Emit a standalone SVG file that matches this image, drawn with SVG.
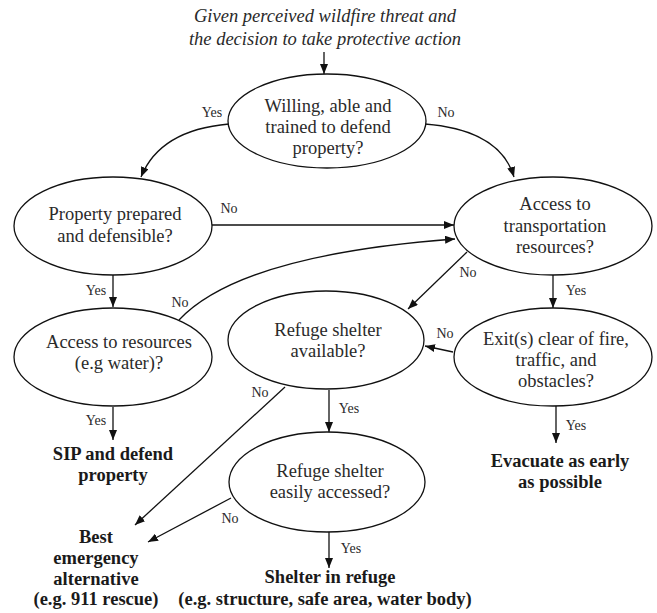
<svg xmlns="http://www.w3.org/2000/svg" width="657" height="613" viewBox="0 0 657 613">
<style>
.bg{fill:#fff}
ellipse{fill:#fff;stroke:#111;stroke-width:1.3}
text{font-family:'Liberation Serif',Tinos,'Times New Roman','Nimbus Roman','DejaVu Serif',serif;fill:#2a2a2a;text-anchor:middle}
.t{font-size:18.5px}
.b{font-size:18.5px;font-weight:bold;fill:#1a1a1a}
.i{font-size:18.5px;font-style:italic}
.l{font-size:14px}
.c path,.c line{fill:none;stroke:#111;stroke-width:1.3}
</style>
<defs>
<marker id="ah" viewBox="0 0 10 8" refX="10" refY="4" markerWidth="10" markerHeight="8" orient="auto" markerUnits="userSpaceOnUse"><path d="M0,0 L10,4 L0,8 z" fill="#111"/></marker>
</defs>
<rect class="bg" x="0" y="0" width="657" height="613"/>
<g id="start"><text class="i" x="325" y="22">Given perceived wildfire threat and</text><text class="i" x="325" y="45">the decision to take protective action</text></g>
<g class="c" id="connectors">
<line x1="324" y1="52" x2="324" y2="74" marker-end="url(#ah)"/>
<path d="M229,124 Q160,130 141,177" marker-end="url(#ah)"/>
<path d="M425,124 Q500,130 514,177" marker-end="url(#ah)"/>
<line x1="212" y1="225" x2="454" y2="225" marker-end="url(#ah)"/>
<path d="M179,320 Q240,255 455,239" marker-end="url(#ah)"/>
<line x1="113" y1="275" x2="113" y2="307" marker-end="url(#ah)"/>
<line x1="467" y1="252" x2="408" y2="309" marker-end="url(#ah)"/>
<line x1="553" y1="275" x2="553" y2="308" marker-end="url(#ah)"/>
<line x1="453" y1="352" x2="425" y2="346" marker-end="url(#ah)"/>
<line x1="113" y1="407" x2="113" y2="440" marker-end="url(#ah)"/>
<line x1="285" y1="387" x2="135" y2="525" marker-end="url(#ah)"/>
<line x1="329" y1="390" x2="329" y2="432" marker-end="url(#ah)"/>
<line x1="231" y1="498" x2="148" y2="542" marker-end="url(#ah)"/>
<line x1="329" y1="532" x2="329" y2="568" marker-end="url(#ah)"/>
<line x1="556" y1="406" x2="556" y2="443" marker-end="url(#ah)"/>
</g>
<g id="labels">
<text class="l" x="212" y="117">Yes</text>
<text class="l" x="446" y="117">No</text>
<text class="l" x="229" y="213">No</text>
<text class="l" x="180" y="307">No</text>
<text class="l" x="96" y="295">Yes</text>
<text class="l" x="468" y="277">No</text>
<text class="l" x="576" y="295">Yes</text>
<text class="l" x="445" y="338">No</text>
<text class="l" x="96" y="425">Yes</text>
<text class="l" x="260" y="397">No</text>
<text class="l" x="349" y="413">Yes</text>
<text class="l" x="230" y="523">No</text>
<text class="l" x="351" y="553">Yes</text>
<text class="l" x="576" y="430">Yes</text>
</g>
<g id="n1"><ellipse cx="327" cy="121" rx="99" ry="47"/><text class="t" x="328" y="112">Willing, able and</text><text class="t" x="328" y="133">trained to defend</text><text class="t" x="328" y="154">property?</text></g>
<g id="n2"><ellipse cx="113" cy="226" rx="99" ry="49"/><text class="t" x="115" y="220">Property prepared</text><text class="t" x="115" y="242">and defensible?</text></g>
<g id="n3"><ellipse cx="553" cy="226" rx="99" ry="49"/><text class="t" x="555" y="210">Access to</text><text class="t" x="555" y="232">transportation</text><text class="t" x="555" y="253">resources?</text></g>
<g id="n4"><ellipse cx="113" cy="357" rx="99" ry="49"/><text class="t" x="119" y="348">Access to resources</text><text class="t" x="119" y="369">(e.g water)?</text></g>
<g id="n5"><ellipse cx="326" cy="340" rx="98" ry="49"/><text class="t" x="328" y="336">Refuge shelter</text><text class="t" x="328" y="357">available?</text></g>
<g id="n6"><ellipse cx="553" cy="357" rx="99" ry="49"/><text class="t" x="556" y="345">Exit(s) clear of fire,</text><text class="t" x="556" y="366">traffic, and</text><text class="t" x="556" y="387">obstacles?</text></g>
<g id="n7"><ellipse cx="327" cy="482" rx="98" ry="50"/><text class="t" x="330" y="477">Refuge shelter</text><text class="t" x="330" y="498">easily accessed?</text></g>
<g id="o1"><text class="b" x="113" y="460">SIP and defend</text><text class="b" x="113" y="481">property</text></g>
<g id="o2"><text class="b" x="560" y="467">Evacuate as early</text><text class="b" x="560" y="488">as possible</text></g>
<g id="o3"><text class="b" x="96" y="543">Best</text><text class="b" x="96" y="564">emergency</text><text class="b" x="96" y="585">alternative</text><text class="b" x="96" y="605">(e.g. 911 rescue)</text></g>
<g id="o4"><text class="b" x="330" y="583">Shelter in refuge</text><text class="b" x="325" y="605">(e.g. structure, safe area, water body)</text></g>
</svg>
